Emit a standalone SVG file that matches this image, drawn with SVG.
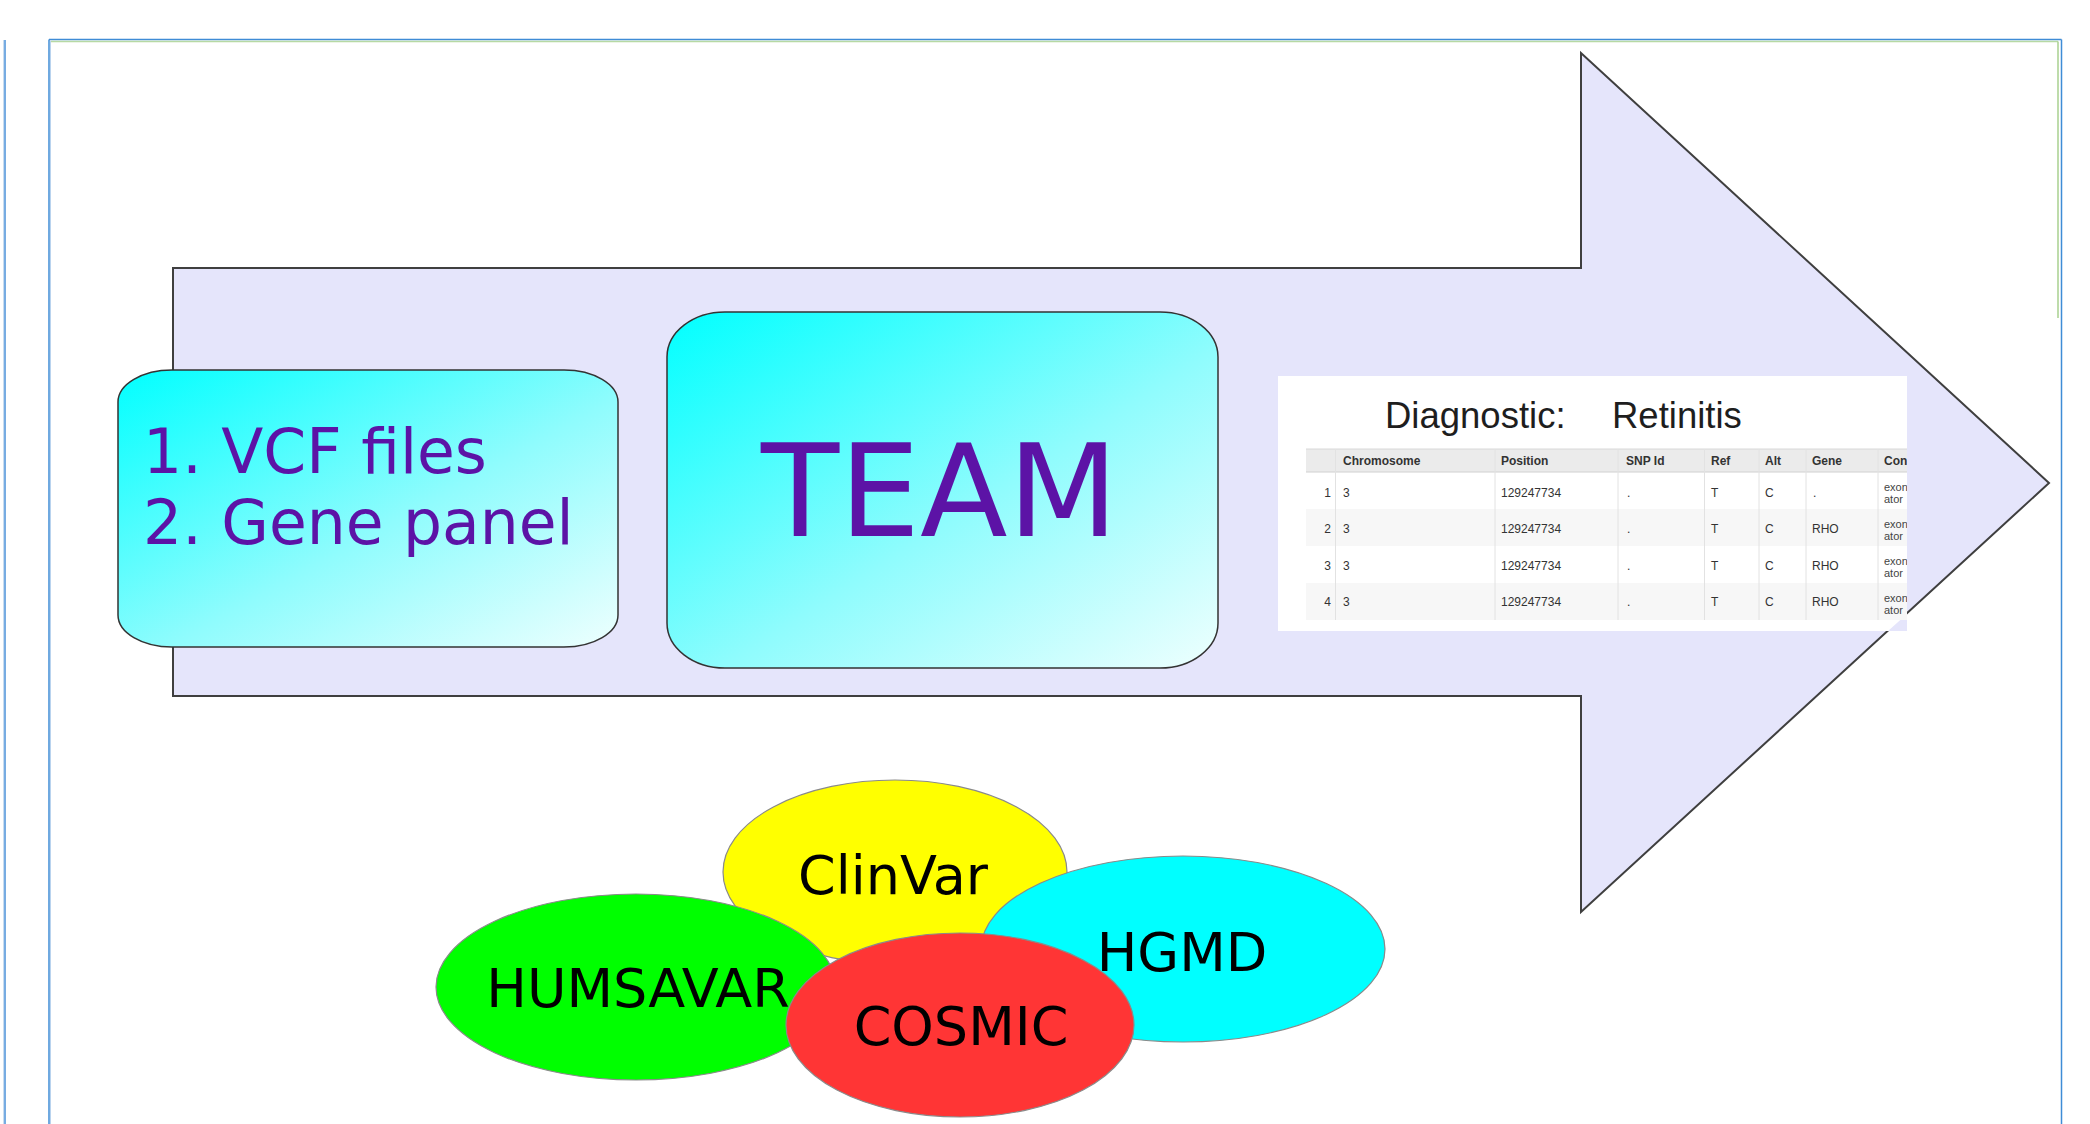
<svg xmlns="http://www.w3.org/2000/svg" width="2090" height="1124" viewBox="0 0 2090 1124">
<defs>
  <linearGradient id="cyanGrad" x1="0" y1="0" x2="1" y2="1">
    <stop offset="0" stop-color="#00ffff"/>
    <stop offset="0.55" stop-color="#8ffcfd"/>
    <stop offset="1" stop-color="#eefffe"/>
  </linearGradient>
  <clipPath id="tableClip">
    <rect x="1278" y="376" width="629" height="255"/>
  </clipPath>
  <style>
    .box { fill: url(#cyanGrad); stroke: #333; stroke-width: 1.5; }
    .purple { font-family: "DejaVu Sans", "Liberation Sans", sans-serif; fill: #5c13a6; }
    .ell { stroke: #8a8a8a; stroke-width: 1.2; }
    .elabel { font-family: "DejaVu Sans", "Liberation Sans", sans-serif; font-size: 54px; fill: #000; text-anchor: middle; }
    .th { font-family: "Liberation Sans", Arial, sans-serif; font-size: 12px; font-weight: bold; fill: #333; }
    .td { font-family: "Liberation Sans", Arial, sans-serif; font-size: 12px; fill: #333; }
    .tds { font-family: "Liberation Sans", Arial, sans-serif; font-size: 11px; fill: #444; }
    .sep { stroke: #e2e2e2; stroke-width: 1; }
  </style>
</defs>
<rect x="0" y="0" width="2090" height="1124" fill="#ffffff"/>

<g id="frame">
  <line x1="5" y1="40" x2="5" y2="1124" stroke="#4a90d9" stroke-width="1.5"/>
  <line x1="3.5" y1="40" x2="3.5" y2="1124" stroke="#c9dcef" stroke-width="1"/>
  <line x1="49" y1="39.5" x2="2061.5" y2="39.5" stroke="#3f8cd6" stroke-width="1.5"/>
  <line x1="50.5" y1="41.5" x2="2058" y2="41.5" stroke="#b7d9a4" stroke-width="1.5"/>
  <line x1="49" y1="39.5" x2="49" y2="1124" stroke="#3f8cd6" stroke-width="1.5"/>
  <line x1="50.5" y1="41" x2="50.5" y2="1124" stroke="#b9d3ee" stroke-width="1"/>
  <line x1="2061.5" y1="39.5" x2="2061.5" y2="1124" stroke="#3f8cd6" stroke-width="1.5"/>
  <line x1="2058" y1="41.5" x2="2058" y2="318" stroke="#a9d08f" stroke-width="1.5"/>
</g>

<g id="flow-arrow">
  <polygon points="173,268 1581,268 1581,53 2049,483 1581,912 1581,696 173,696" fill="#e5e5fb" stroke="#3f3f3f" stroke-width="2"/>
</g>

<g id="connectors"></g>

<g id="inputs">
  <path class="box" d="M172,370 H564 A54,32 0 0 1 618,402 V615 A54,32 0 0 1 564,647 H172 A54,32 0 0 1 118,615 V402 A54,32 0 0 1 172,370 Z"/>
  <text class="purple" font-size="61.5" x="143" y="473">1. VCF files</text>
  <text class="purple" font-size="61.5" x="143" y="544">2. Gene panel</text>
</g>

<g id="team">
  <path class="box" d="M725,312 H1160 A58,45 0 0 1 1218,357 V623 A58,45 0 0 1 1160,668 H725 A58,45 0 0 1 667,623 V357 A58,45 0 0 1 725,312 Z"/>
  <text class="purple" font-size="128" x="761" y="536">TEAM</text>
</g>

<g id="result-table">
  <rect x="1278" y="376" width="629" height="255" fill="#ffffff"/>
  <polygon points="1907,614 1907,631 1888,631" fill="#e5e5fb"/>
  <text x="1385" y="428" font-family="Liberation Sans, Arial, sans-serif" font-size="36.5" fill="#1e1e1e">Diagnostic:</text>
  <text x="1612" y="428" font-family="Liberation Sans, Arial, sans-serif" font-size="36.5" fill="#1e1e1e">Retinitis</text>
  <g clip-path="url(#tableClip)">
    <rect x="1306" y="449" width="601" height="23" fill="#ebebeb"/>
    <line x1="1306" y1="449" x2="1907" y2="449" stroke="#d8d8d8"/>
    <line x1="1306" y1="472" x2="1907" y2="472" stroke="#d0d0d0"/>
    <rect x="1306" y="509" width="601" height="37" fill="#f7f7f7"/>
    <rect x="1306" y="583" width="601" height="37" fill="#f7f7f7"/>
    <line class="sep" x1="1335.5" y1="449" x2="1335.5" y2="620"/>
    <line class="sep" x1="1495" y1="449" x2="1495" y2="620"/>
    <line class="sep" x1="1618" y1="449" x2="1618" y2="620"/>
    <line class="sep" x1="1704.5" y1="449" x2="1704.5" y2="620"/>
    <line class="sep" x1="1759" y1="449" x2="1759" y2="620"/>
    <line class="sep" x1="1806" y1="449" x2="1806" y2="620"/>
    <line class="sep" x1="1878" y1="449" x2="1878" y2="620"/>
    <text class="th" x="1343" y="465">Chromosome</text>
    <text class="th" x="1501" y="465">Position</text>
    <text class="th" x="1626" y="465">SNP Id</text>
    <text class="th" x="1711" y="465">Ref</text>
    <text class="th" x="1765" y="465">Alt</text>
    <text class="th" x="1812" y="465">Gene</text>
    <text class="th" x="1884" y="465">Con</text>

    <text class="td" x="1331" y="497" text-anchor="end">1</text>
    <text class="td" x="1343" y="497">3</text>
    <text class="td" x="1501" y="497">129247734</text>
    <text class="td" x="1627" y="497">.</text>
    <text class="td" x="1711" y="497">T</text>
    <text class="td" x="1765" y="497">C</text>
    <text class="td" x="1813" y="497">.</text>
    <text class="tds" x="1884" y="491">exon</text>
    <text class="tds" x="1884" y="503">ator</text>

    <text class="td" x="1331" y="533" text-anchor="end">2</text>
    <text class="td" x="1343" y="533">3</text>
    <text class="td" x="1501" y="533">129247734</text>
    <text class="td" x="1627" y="533">.</text>
    <text class="td" x="1711" y="533">T</text>
    <text class="td" x="1765" y="533">C</text>
    <text class="td" x="1812" y="533">RHO</text>
    <text class="tds" x="1884" y="528">exon</text>
    <text class="tds" x="1884" y="540">ator</text>

    <text class="td" x="1331" y="570" text-anchor="end">3</text>
    <text class="td" x="1343" y="570">3</text>
    <text class="td" x="1501" y="570">129247734</text>
    <text class="td" x="1627" y="570">.</text>
    <text class="td" x="1711" y="570">T</text>
    <text class="td" x="1765" y="570">C</text>
    <text class="td" x="1812" y="570">RHO</text>
    <text class="tds" x="1884" y="565">exon</text>
    <text class="tds" x="1884" y="577">ator</text>

    <text class="td" x="1331" y="606" text-anchor="end">4</text>
    <text class="td" x="1343" y="606">3</text>
    <text class="td" x="1501" y="606">129247734</text>
    <text class="td" x="1627" y="606">.</text>
    <text class="td" x="1711" y="606">T</text>
    <text class="td" x="1765" y="606">C</text>
    <text class="td" x="1812" y="606">RHO</text>
    <text class="tds" x="1884" y="602">exon</text>
    <text class="tds" x="1884" y="614">ator</text>
  </g>
</g>

<g id="clinvar">
  <ellipse class="ell" cx="895" cy="872" rx="172" ry="92" fill="#ffff00"/>
  <text class="elabel" x="893" y="894" font-size="52.5">ClinVar</text>
</g>
<g id="hgmd">
  <ellipse class="ell" cx="1183" cy="949" rx="202" ry="93" fill="#00ffff"/>
  <text class="elabel" x="1182" y="971">HGMD</text>
</g>
<g id="humsavar">
  <ellipse class="ell" cx="636" cy="987" rx="200" ry="93" fill="#00ff00"/>
  <text class="elabel" x="638" y="1007" font-size="55">HUMSAVAR</text>
</g>
<g id="cosmic">
  <ellipse class="ell" cx="960" cy="1025" rx="174" ry="92" fill="#ff3535"/>
  <text class="elabel" x="961" y="1045">COSMIC</text>
</g>
</svg>
